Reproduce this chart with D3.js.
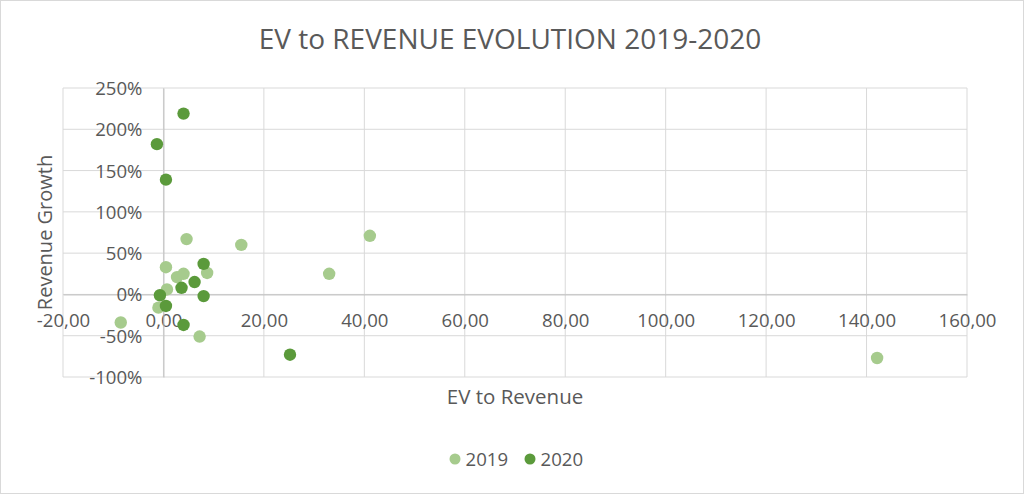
<!DOCTYPE html>
<html>
<head>
<meta charset="utf-8">
<script src="https://cdn.jsdelivr.net/npm/d3@7"></script>
<style>
  html, body { margin: 0; padding: 0; background: #fff; }
  svg { display: block; font-family: "Open Sans", sans-serif; }
</style>
</head>
<body>
<svg id="chart" width="1024" height="494"></svg>
<script>
// ---- data ----
const seriesNames = ["2019", "2020"];
const ev2019 = [4.6, 15.5, 0.5, 2.7, 4.0, 8.7, 0.7, -1.0, -8.5, 7.2, 33.0, 41.1, 142.1];
const growth2019 = [0.67, 0.60, 0.33, 0.21, 0.25, 0.26, 0.06, -0.16, -0.34, -0.51, 0.25, 0.71, -0.77];
const ev2020 = [-1.3, 4.0, 0.5, 8.0, 6.2, 3.6, 8.0, -0.7, 0.5, 4.0, 25.2];
const growth2020 = [1.82, 2.19, 1.39, 0.37, 0.15, 0.08, -0.02, -0.01, -0.14, -0.37, -0.73];
const xTicks = [-20, 0, 20, 40, 60, 80, 100, 120, 140, 160];
const yTicks = [-1, -0.5, 0, 0.5, 1, 1.5, 2, 2.5];
const titleText = "EV to REVENUE EVOLUTION 2019-2020";
const xTitle = "EV to Revenue";
const yTitle = "Revenue Growth";

// ---- setup ----
const colors = { "2019": "#a6cb8d", "2020": "#5b9a3b" };
const svg = d3.select("#chart");
const W = 1024, H = 494;
const plot = { left: 63, right: 967, top: 88, bottom: 377 };

const locale = d3.formatLocale({ decimal: ",", thousands: ".", grouping: [3], currency: ["", "€"], minus: "-" });
const fmtX = locale.format(".2f");
const fmtY = locale.format(".0%");

const x = d3.scaleLinear().domain([-20, 160]).range([plot.left, plot.right]);
const y = d3.scaleLinear().domain([-1, 2.5]).range([plot.bottom, plot.top]);

// border
svg.append("rect").attr("x", 0.5).attr("y", 0.5).attr("width", W - 1).attr("height", H - 1)
  .attr("fill", "#fff").attr("stroke", "#d9d9d9");

// gridlines
const grid = svg.append("g");
grid.selectAll(".gx").data(xTicks).join("line")
  .attr("x1", d => x(d)).attr("x2", d => x(d))
  .attr("y1", plot.top).attr("y2", plot.bottom)
  .attr("stroke", "#d9d9d9").attr("stroke-width", 1);
grid.selectAll(".gy").data(yTicks).join("line")
  .attr("x1", plot.left).attr("x2", plot.right)
  .attr("y1", d => y(d)).attr("y2", d => y(d))
  .attr("stroke", "#d9d9d9").attr("stroke-width", 1);

// axes
const xAxis = svg.append("g").attr("transform", `translate(0,${y(0)})`)
  .call(d3.axisBottom(x).tickValues(xTicks).tickFormat(fmtX).tickSize(0).tickPadding(0));
xAxis.select(".domain").attr("stroke", "#bfbfbf");
xAxis.selectAll("text").attr("y", 33).attr("dy", 0)
  .attr("fill", "#595959").style("font-size", "18.6px").style("font-family", "Open Sans");

const yAxis = svg.append("g").attr("transform", `translate(${x(0)},0)`)
  .call(d3.axisLeft(y).tickValues(yTicks).tickFormat(fmtY).tickSize(0).tickPadding(21));
yAxis.select(".domain").attr("stroke", "#bfbfbf");
yAxis.selectAll("text").attr("dy", "0.35em")
  .attr("fill", "#595959").style("font-size", "18.6px").style("font-family", "Open Sans");

// points
const s2019 = ev2019.map((v, i) => ({ x: v, y: growth2019[i] }));
const s2020 = ev2020.map((v, i) => ({ x: v, y: growth2020[i] }));
svg.append("g").selectAll("circle").data(s2019).join("circle")
  .attr("cx", d => x(d.x)).attr("cy", d => y(d.y)).attr("r", 6.2).attr("fill", colors["2019"]);
svg.append("g").selectAll("circle").data(s2020).join("circle")
  .attr("cx", d => x(d.x)).attr("cy", d => y(d.y)).attr("r", 6.2).attr("fill", colors["2020"]);

// titles
svg.append("text").attr("x", 510).attr("y", 49).attr("text-anchor", "middle")
  .attr("fill", "#595959").style("font-size", "28px").text(titleText);
svg.append("text").attr("x", 515).attr("y", 404).attr("text-anchor", "middle")
  .attr("fill", "#595959").style("font-size", "20.5px").text(xTitle);
svg.append("text").attr("transform", `translate(52,${(plot.top + plot.bottom) / 2}) rotate(-90)`)
  .attr("text-anchor", "middle").attr("fill", "#595959").style("font-size", "20px").text(yTitle);

// legend
const legend = svg.append("g");
const legX = [455, 530];
seriesNames.forEach((n, i) => {
  legend.append("circle").attr("cx", legX[i]).attr("cy", 459).attr("r", 5.5).attr("fill", colors[n]);
  legend.append("text").attr("x", legX[i] + 10.5).attr("y", 465.5)
    .attr("fill", "#595959").style("font-size", "18.6px").text(n);
});
</script>
</body>
</html>
